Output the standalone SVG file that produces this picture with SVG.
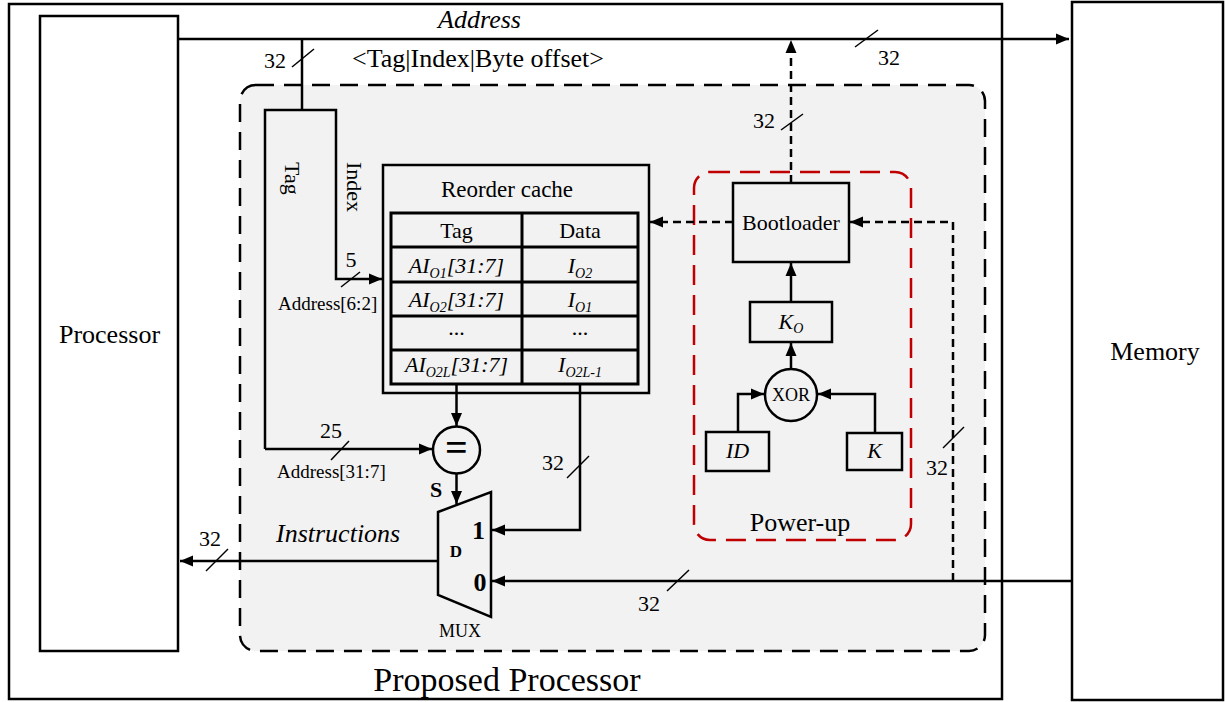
<svg xmlns="http://www.w3.org/2000/svg" width="1225" height="702" viewBox="0 0 1225 702" font-family="'Liberation Serif','Times New Roman',serif">
<defs>
<marker id="ah" markerWidth="14" markerHeight="12" refX="13" refY="6" orient="auto" markerUnits="userSpaceOnUse"><path d="M0,0.5 L13,6 L0,11.5 z" fill="#000"/></marker>
<style>
text{font-family:"Liberation Serif","Times New Roman",serif;fill:#000}
.box{fill:none;stroke:#000;stroke-width:2.5}
.wbox{fill:#fff;stroke:#000;stroke-width:2.5}
.ln{fill:none;stroke:#000;stroke-width:2.5}
.ar{fill:none;stroke:#000;stroke-width:2.5;marker-end:url(#ah)}
.dar{fill:none;stroke:#000;stroke-width:2.5;stroke-dasharray:8 5;marker-end:url(#ah)}
.sl{stroke:#000;stroke-width:1.5}
.tb{fill:none;stroke:#000;stroke-width:3}
.m{text-anchor:middle}
.i{font-style:italic}
.b{font-weight:bold}
.f22{font-size:22px}
.f26{font-size:26px}
.f19{font-size:19px}
.f18{font-size:18px}
</style>
</defs>

<g id="proposed-processor">
<rect x="9" y="4" width="993" height="695" class="box"/>
<text x="507" y="691" class="m" font-size="34">Proposed Processor</text>
</g>

<g id="memory">
<rect x="1072" y="2" width="151" height="698" class="wbox"/>
<text x="1155" y="360" class="m f26">Memory</text>
</g>

<g id="processor">
<rect x="40" y="16" width="138" height="635" class="wbox"/>
<text x="109.5" y="343" class="m f26">Processor</text>
</g>

<g id="core-area">
<rect x="240" y="85" width="745" height="566" rx="16" ry="16" fill="#f2f2f2" stroke="#000" stroke-width="2.5" stroke-dasharray="18 10"/>
</g>

<g id="power-up">
<rect x="694" y="172" width="217" height="368" rx="16" ry="16" fill="none" stroke="#c00000" stroke-width="2.5" stroke-dasharray="20 10"/>
<text x="800" y="531" class="m f26">Power-up</text>
</g>

<g id="tag-index">
<text transform="translate(285,162) rotate(90)" class="f22">Tag</text>
<text transform="translate(346.5,162) rotate(90)" class="f22">Index</text>
</g>

<g id="reorder-cache">
<rect x="383" y="165" width="266" height="228" class="box"/>
<text x="507" y="197" class="m" font-size="23">Reorder cache</text>
<rect x="391" y="213" width="247" height="171" class="tb"/>
<line x1="522" y1="213" x2="522" y2="384" class="tb"/>
<line x1="391" y1="247" x2="638" y2="247" class="tb"/>
<line x1="391" y1="282" x2="638" y2="282" class="tb"/>
<line x1="391" y1="316" x2="638" y2="316" class="tb"/>
<line x1="391" y1="350" x2="638" y2="350" class="tb"/>
<text x="456.5" y="238" class="m f22">Tag</text>
<text x="580" y="238" class="m f22">Data</text>
<text x="456.5" y="273" class="m i f22">AI<tspan font-size="14" dy="5">O1</tspan><tspan dy="-5">[31:7]</tspan></text>
<text x="580" y="273" class="m i f22">I<tspan font-size="14" dy="5">O2</tspan></text>
<text x="456.5" y="307" class="m i f22">AI<tspan font-size="14" dy="5">O2</tspan><tspan dy="-5">[31:7]</tspan></text>
<text x="580" y="307" class="m i f22">I<tspan font-size="14" dy="5">O1</tspan></text>
<text x="456.5" y="335" class="m f22">...</text>
<text x="580" y="335" class="m f22">...</text>
<text x="456.5" y="372" class="m i f22">AI<tspan font-size="14" dy="5">O2L</tspan><tspan dy="-5">[31:7]</tspan></text>
<text x="580" y="372" class="m i f22">I<tspan font-size="14" dy="5">O2L-1</tspan></text>
</g>

<g id="comparator">
<circle cx="456.5" cy="450" r="23.5" class="box"/>
<text x="456.5" y="461" class="m b" font-size="40">=</text>
</g>

<g id="mux">
<polygon points="438,512 491,492 491,617 438,595" class="box"/>
<text x="456" y="557" class="m b" font-size="17">D</text>
<text x="478.5" y="539" class="m b f26">1</text>
<text x="480" y="591" class="m b f26">0</text>
<text x="460" y="637" class="m f18">MUX</text>
</g>

<g id="bootloader">
<rect x="733" y="183" width="116" height="79" class="box"/>
<text x="791" y="230" class="m f22">Bootloader</text>
</g>

<g id="ko">
<rect x="750" y="302" width="82" height="40" class="box"/>
<text x="791" y="329" class="m i f22">K<tspan font-size="14" dy="4">O</tspan></text>
</g>

<g id="xor">
<circle cx="791" cy="395" r="26" class="box"/>
<text x="791" y="401" class="m f18">XOR</text>
</g>

<g id="id">
<rect x="706" y="432" width="63" height="39" class="box"/>
<text x="737.5" y="458" class="m i f22">ID</text>
</g>

<g id="k">
<rect x="847" y="433" width="55" height="37" class="box"/>
<text x="874.5" y="458" class="m i f22">K</text>
</g>

<g id="connectors">
<path d="M178,39 H1069" class="ar"/>
<text x="479.5" y="28" class="m i f26">Address</text>
<line x1="855" y1="47" x2="878" y2="30" class="sl"/>
<text x="889" y="65" class="m f22">32</text>
<path d="M302,39 V110" class="ln"/>
<line x1="292" y1="67" x2="314" y2="49" class="sl"/>
<text x="286" y="68" text-anchor="end" class="f22">32</text>
<text x="478" y="67" class="m" font-size="26">&lt;Tag|Index|Byte offset&gt;</text>
<path d="M265,449 V110 H336 V279 H382" class="ar"/>
<line x1="341" y1="287" x2="360" y2="272" class="sl"/>
<text x="351" y="267" class="m f22">5</text>
<text x="278" y="310" class="f19">Address[6:2]</text>
<path d="M265,449 H432" class="ar"/>
<line x1="331" y1="460" x2="349" y2="441" class="sl"/>
<text x="331" y="438" class="m f22">25</text>
<text x="277" y="478" class="f19">Address[31:7]</text>
<path d="M456.5,384 V426" class="ar"/>
<path d="M456.5,474 V504" class="ar"/>
<text x="436" y="497" class="m b f22">S</text>
<path d="M580,384 V530 H492" class="ar"/>
<line x1="567" y1="478" x2="589" y2="456" class="sl"/>
<text x="553" y="470" class="m f22">32</text>
<path d="M1072,581 H492" class="ar"/>
<line x1="667" y1="591" x2="689" y2="570" class="sl"/>
<text x="649" y="611" class="m f22">32</text>
<path d="M438,561 H180" class="ar"/>
<line x1="206" y1="571" x2="228" y2="549" class="sl"/>
<text x="210" y="546" class="m f22">32</text>
<text x="276" y="542" class="i f26">Instructions</text>
<path d="M791,183 V40" class="dar"/>
<line x1="781" y1="130" x2="803" y2="114" class="sl"/>
<text x="764" y="128" class="m f22">32</text>
<path d="M733,222 H650" class="dar"/>
<path d="M953,581 V222 H850" class="dar"/>
<line x1="943" y1="448" x2="964" y2="427" class="sl"/>
<text x="937" y="475" class="m f22">32</text>
<path d="M791,302 V263" class="ar"/>
<path d="M791,369 V343" class="ar"/>
<path d="M738,432 V394 H764" class="ar"/>
<path d="M875,433 V394 H818" class="ar"/>
</g>
</svg>
